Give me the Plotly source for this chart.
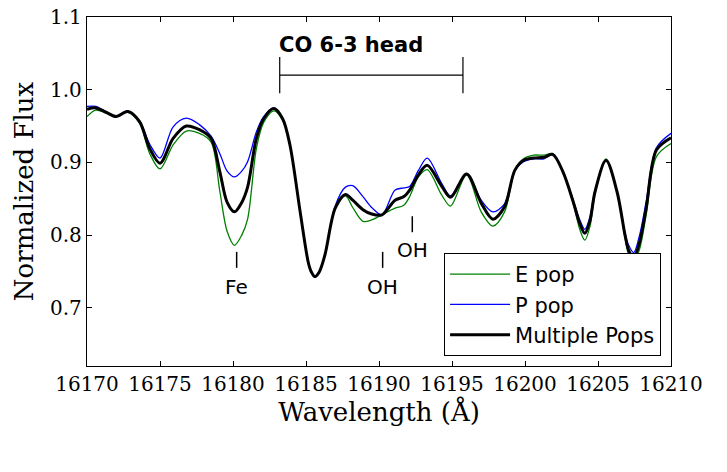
import plotly.graph_objects as go

wavelength = [16170.0, 16170.6, 16171.3, 16172.0, 16172.8, 16173.6, 16174.3, 16175.0, 16175.9, 16176.8,
              16177.7, 16178.5, 16179.1, 16179.6, 16180.1, 16180.6, 16181.0, 16181.6, 16182.1, 16182.8,
              16183.4, 16183.9, 16184.6, 16185.15, 16185.35, 16185.6, 16185.9, 16186.3, 16187.0, 16187.7,
              16188.2, 16188.9, 16189.5, 16190.2, 16191.1, 16191.7, 16192.1, 16192.7, 16193.3, 16194.3,
              16194.9, 16196.0, 16197.0, 16197.8, 16198.6, 16199.3, 16199.9, 16200.6, 16201.3, 16201.9,
              16202.6, 16203.3, 16203.75, 16204.1, 16204.45, 16204.8, 16205.55, 16206.3, 16206.85, 16207.1,
              16207.45, 16207.85, 16208.3, 16209.0, 16210.0]

multi_pops = [0.973, 0.975, 0.969, 0.963, 0.970, 0.956, 0.919, 0.899, 0.933, 0.950,
              0.945, 0.933, 0.887, 0.845, 0.832, 0.845, 0.866, 0.933, 0.960, 0.974,
              0.960, 0.924, 0.832, 0.763, 0.750, 0.743, 0.749, 0.773, 0.837, 0.856,
              0.848, 0.835, 0.829, 0.828, 0.848, 0.853, 0.862, 0.883, 0.896, 0.867,
              0.852, 0.884, 0.844, 0.822, 0.839, 0.889, 0.903, 0.906, 0.907, 0.911,
              0.887, 0.846, 0.816, 0.8025, 0.820, 0.860, 0.903, 0.860, 0.800, 0.779,
              0.769, 0.790, 0.837, 0.917, 0.934]

p_pop = [0.977, 0.977, 0.970, 0.964, 0.971, 0.957, 0.925, 0.906, 0.949, 0.961,
         0.952, 0.936, 0.912, 0.888, 0.880, 0.888, 0.901, 0.942, 0.963, 0.975,
         0.960, 0.924, 0.832, 0.762, 0.749, 0.742, 0.748, 0.772, 0.840, 0.866,
         0.868, 0.853, 0.838, 0.828, 0.862, 0.865, 0.867, 0.889, 0.906, 0.871,
         0.854, 0.884, 0.848, 0.832, 0.843, 0.889, 0.901, 0.905, 0.905, 0.911,
         0.887, 0.848, 0.821, 0.808, 0.825, 0.862, 0.902, 0.860, 0.803, 0.786,
         0.776, 0.800, 0.846, 0.920, 0.940]

e_pop = [0.963, 0.972, 0.968, 0.963, 0.969, 0.954, 0.912, 0.891, 0.924, 0.943,
         0.940, 0.928, 0.860, 0.805, 0.786, 0.800, 0.822, 0.919, 0.955, 0.971,
         0.958, 0.924, 0.832, 0.763, 0.750, 0.743, 0.749, 0.773, 0.836, 0.854,
         0.838, 0.819, 0.821, 0.828, 0.837, 0.841, 0.853, 0.880, 0.890, 0.855,
         0.840, 0.883, 0.832, 0.8125, 0.832, 0.889, 0.905, 0.910, 0.910, 0.912,
         0.887, 0.844, 0.808, 0.793, 0.812, 0.857, 0.905, 0.860, 0.797, 0.773,
         0.763, 0.781, 0.828, 0.908, 0.926]

x_ticks = [16170, 16175, 16180, 16185, 16190, 16195, 16200, 16205, 16210]
y_ticks = [0.7, 0.8, 0.9, 1.0, 1.1]

line_labels = ["Fe", "OH", "OH"]
line_x = [16180.25, 16190.25, 16192.28]
line_y0 = [0.755, 0.755, 0.804]
line_y1 = [0.777, 0.777, 0.826]
label_y = [0.7286, 0.7286, 0.7795]

co_x0, co_x1 = 16183.2, 16195.75
co_y, co_y_lo, co_y_hi = 1.020, 0.995, 1.045

fig = go.Figure()
fig.add_trace(go.Scatter(x=wavelength, y=e_pop, mode="lines", name="E pop", legendgroup="e",
                         line=dict(color="#008000", width=1.3, shape="spline", smoothing=0.9)))
fig.add_trace(go.Scatter(x=wavelength, y=p_pop, mode="lines", name="P pop", legendgroup="p",
                         line=dict(color="#0000ff", width=1.3, shape="spline", smoothing=0.9)))
fig.add_trace(go.Scatter(x=wavelength, y=multi_pops, mode="lines", name="Multiple Pops", legendgroup="m",
                         line=dict(color="black", width=3, shape="spline", smoothing=0.9)))

shapes = []
for lx, a, b in zip(line_x, line_y0, line_y1):
    shapes.append(dict(type="line", xref="x", yref="y", x0=lx, x1=lx, y0=a, y1=b,
                       line=dict(color="black", width=1.5)))
shapes.append(dict(type="line", xref="x", yref="y", x0=co_x0, x1=co_x1, y0=co_y, y1=co_y,
                   line=dict(color="black", width=1.2)))
for cx in (co_x0, co_x1):
    shapes.append(dict(type="line", xref="x", yref="y", x0=cx, x1=cx, y0=co_y_lo, y1=co_y_hi,
                       line=dict(color="black", width=1.2)))

annotations = []
for t, lx, ly in zip(line_labels, line_x, label_y):
    annotations.append(dict(text=t, x=lx, y=ly, xref="x", yref="y", showarrow=False,
                            xanchor="center", yanchor="middle",
                            font=dict(family="DejaVu Sans", size=20, color="black")))
annotations.append(dict(text="<b>CO 6-3 head</b>", x=16183.0, y=1.0615, xref="x", yref="y",
                        showarrow=False, xanchor="left", yanchor="middle",
                        font=dict(family="DejaVu Sans", size=21, color="black")))

axis_common = dict(showline=True, linecolor="black", linewidth=1.3, mirror="allticks",
                   ticks="inside", ticklen=5, tickwidth=1, tickcolor="black",
                   showgrid=False, zeroline=False, automargin=False,
                   ticklabeloverflow="allow",
                   tickfont=dict(family="DejaVu Serif", size=20, color="black"))

fig.update_layout(
    width=727, height=472,
    margin=dict(l=87, r=56, t=17, b=106),
    paper_bgcolor="white", plot_bgcolor="white",
    showlegend=True,
    legend=dict(x=0.983, y=0.029, xanchor="right", yanchor="bottom",
                bordercolor="black", borderwidth=1, bgcolor="white",
                font=dict(family="DejaVu Sans", size=21, color="black"),
                traceorder="grouped", tracegroupgap=0, itemwidth=60),
    shapes=shapes,
    annotations=annotations,
    xaxis=dict(range=[16170, 16210], tickvals=x_ticks, ticktext=[str(v) for v in x_ticks],
               title=dict(text="Wavelength (Å)", standoff=6,
                          font=dict(family="DejaVu Serif", size=26, color="black")),
               **axis_common),
    yaxis=dict(range=[0.62, 1.1], tickvals=y_ticks, ticktext=[f"{v:.1f}" for v in y_ticks],
               title=dict(text="Normalized Flux", standoff=8,
                          font=dict(family="DejaVu Serif", size=26, color="black")),
               **axis_common),
)

fig.write_html("out.html", config={"displayModeBar": False},
               post_script="document.body.style.margin='0px';document.body.style.overflow='hidden';")
